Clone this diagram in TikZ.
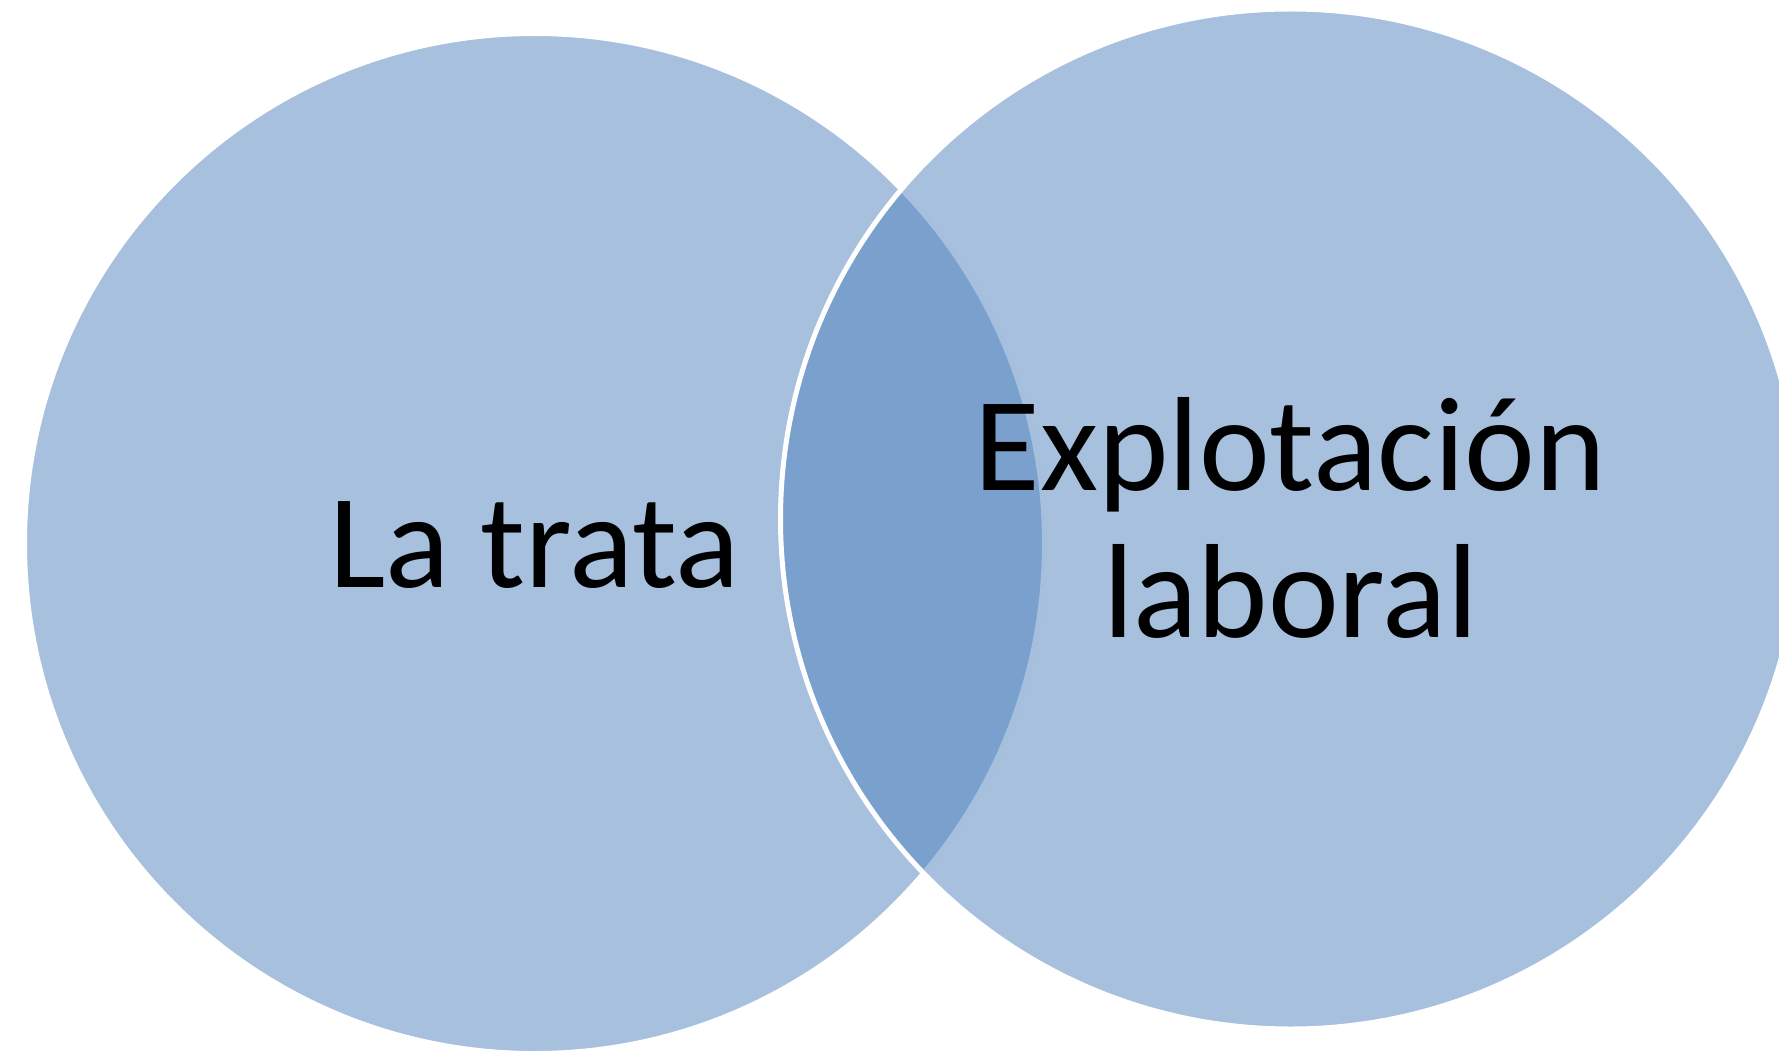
\documentclass[tikz,border=0pt]{standalone}
\usepackage{fontspec}
\setmainfont{Carlito}
\definecolor{vennblue}{HTML}{4F81BD}
\newcommand{\vennr}{510}

\begin{document}
\begin{tikzpicture}[x=1pt,y=-1pt,
  vennset/.style={fill=vennblue,fill opacity=.5,draw=white,line width=5pt},
  vennlabel/.style={font=\fontsize{134}{147}\selectfont,align=center,inner sep=0pt,anchor=base}]
  \useasboundingbox (0,0) rectangle (1779,1051);
  \coordinate (trata) at (534.5,543.5);
  \coordinate (explotacion) at (1290.5,519);
  \draw[vennset] (trata) circle[radius=\vennr];
  \draw[vennset] (explotacion) circle[radius=\vennr];
  \node[vennlabel] (trata label) at (534.5,587) {La trata};
  \node[vennlabel] (explotacion label) at (1290.5,637) {Explotación\\laboral};
\end{tikzpicture}
\end{document}
